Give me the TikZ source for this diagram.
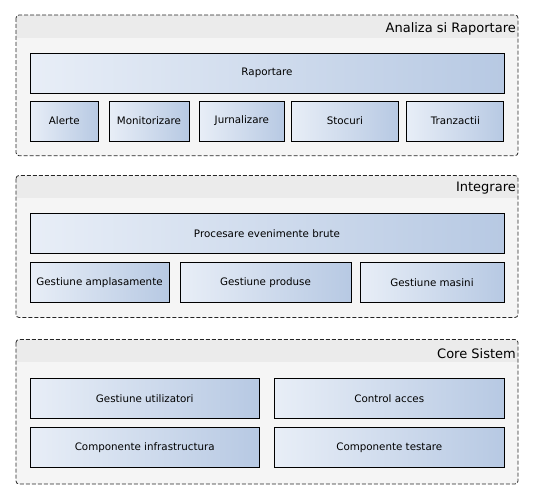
\documentclass[tikz,border=0pt]{standalone}
\usepackage{fontspec}
\setmainfont{DejaVu Sans}
\definecolor{boxleft}{RGB}{232,238,247}
\definecolor{boxright}{RGB}{183,201,227}
\definecolor{grpbg}{RGB}{245,245,245}
\definecolor{grphd}{RGB}{235,235,235}
\begin{document}
\begin{tikzpicture}[x=1pt,y=-1pt,
  grpbody/.style={fill=grpbg},
  grphead/.style={fill=grphd},
  grpborder/.style={draw=black!85, line width=0.8pt, dash pattern=on 4pt off 2pt, rounded corners=3pt},
  grptitle/.style={anchor=east, inner sep=0pt, font=\fontsize{13}{15}\selectfont},
  box/.style={draw=black, line width=0.9pt, left color=boxleft, right color=boxright,
    minimum height=40pt, inner sep=0pt, font=\fontsize{10.3}{12}\selectfont}
]
\useasboundingbox (0,0) rectangle (534,495);

% ---------- Group 1
\fill[grpbody, rounded corners=3pt] (16,15) rectangle (518,155.7);
\begin{scope}
  \clip[rounded corners=3pt] (16,15) rectangle (518,155.7);
  \fill[grphead] (16,15) rectangle (518,37.7);
\end{scope}
\draw[grpborder] (16,15) rectangle (518,155.7);
\node[grptitle] (t1) at (516,29) {Analiza si Raportare};

\node[box, minimum width=474pt] (rap) at (267,73) {Raportare};
\node[box, minimum width=68.7pt] (alerte) at (64.35,121) {Alerte};
\node[box, minimum width=80pt] (monit) at (149,121) {Monitorizare};
\node[box, minimum width=85.7pt] (jurn) at (241.85,121) {Jurnalizare};
\node[box, minimum width=107.7pt] (stoc) at (344.85,121) {Stocuri};
\node[box, minimum width=97pt] (tranz) at (455.35,121) {Tranzactii};

% ---------- Group 2
\fill[grpbody, rounded corners=3pt] (16,175.5) rectangle (518,317.5);
\begin{scope}
  \clip[rounded corners=3pt] (16,175.5) rectangle (518,317.5);
  \fill[grphead] (16,175.5) rectangle (518,197.5);
\end{scope}
\draw[grpborder] (16,175.5) rectangle (518,317.5);
\node[grptitle] (t2) at (516,188.5) {Integrare};

\node[box, minimum width=474pt] (proc) at (267,233.5) {Procesare evenimente brute};
\node[box, minimum width=139pt] (gamp) at (99.5,282.2) {Gestiune amplasamente};
\node[box, minimum width=171pt] (gprod) at (265.5,282.2) {Gestiune produse};
\node[box, minimum width=144pt] (gmas) at (432,282.2) {Gestiune masini};

% ---------- Group 3
\fill[grpbody, rounded corners=3pt] (16,339.5) rectangle (518,484);
\begin{scope}
  \clip[rounded corners=3pt] (16,339.5) rectangle (518,484);
  \fill[grphead] (16,339.5) rectangle (518,362.4);
\end{scope}
\draw[grpborder] (16,339.5) rectangle (518,484);
\node[grptitle] (t3) at (516,353.8) {Core Sistem};

\node[box, minimum width=229.5pt] (gutil) at (144.75,398.8) {Gestiune utilizatori};
\node[box, minimum width=229.5pt] (ctrl) at (389.25,398.8) {Control acces};
\node[box, minimum width=229.5pt] (cinf) at (144.75,447.8) {Componente infrastructura};
\node[box, minimum width=229.5pt] (ctest) at (389.25,447.8) {Componente testare};
\end{tikzpicture}
\end{document}
